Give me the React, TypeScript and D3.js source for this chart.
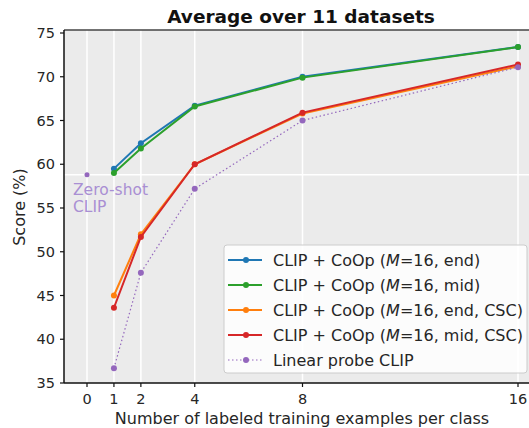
import { useEffect, useRef } from 'react';
import * as d3 from 'd3';

const shots = [1, 2, 4, 8, 16];
const endScores = [59.5, 62.4, 66.7, 70.0, 73.4];
const midScores = [59.0, 61.8, 66.6, 69.9, 73.4];
const endCscScores = [45.0, 52.0, 60.0, 65.8, 71.2];
const midCscScores = [43.6, 51.7, 60.0, 65.9, 71.4];
const linearProbeScores = [36.7, 47.6, 57.2, 65.0, 71.1];
const zeroShotScore = 58.8;

const xTicks = [0, 1, 2, 4, 8, 16];
const yTicks = [35, 40, 45, 50, 55, 60, 65, 70, 75];

const seriesNames = [
  'CLIP + CoOp (M=16, end)',
  'CLIP + CoOp (M=16, mid)',
  'CLIP + CoOp (M=16, end, CSC)',
  'CLIP + CoOp (M=16, mid, CSC)',
  'Linear probe CLIP',
];
const seriesColors = ['#1f77b4', '#2ca02c', '#ff7f0e', '#d62728', '#9467bd'];
const seriesValues = [endScores, midScores, endCscScores, midCscScores, linearProbeScores];

const W = 529;
const H = 428;
const FONT = 'DejaVu Sans, sans-serif';

export default function App() {
  const ref = useRef<SVGSVGElement>(null);

  useEffect(() => {
    document.body.style.margin = '0';
    if (!ref.current) return;
    const svg = d3.select(ref.current);
    svg.selectAll('*').remove();

    const left = 64, right = 535, top = 30, bottom = 383;
    const x = d3.scaleLinear().domain([0, 16]).range([87, 518]);
    const y = d3.scaleLinear().domain([35, 75]).range([bottom, 33]);

    // plot background
    svg.append('rect')
      .attr('x', left).attr('y', top)
      .attr('width', right - left).attr('height', bottom - top)
      .attr('fill', '#ebebeb');

    // vertical grid
    svg.append('g').selectAll('line').data(xTicks).join('line')
      .attr('x1', d => x(d)).attr('x2', d => x(d))
      .attr('y1', top).attr('y2', bottom)
      .attr('stroke', '#fff').attr('stroke-width', 1.5);

    // zero-shot reference line
    svg.append('line')
      .attr('x1', left).attr('x2', right)
      .attr('y1', y(zeroShotScore)).attr('y2', y(zeroShotScore))
      .attr('stroke', '#fff').attr('stroke-width', 1.5);

    // series
    const rows = seriesValues.map(vals => shots.map((s, i) => ({ s, v: vals[i] })));
    const line = d3.line<{ s: number; v: number }>().x(d => x(d.s)).y(d => y(d.v));
    rows.forEach((data, k) => {
      const dotted = k === 4;
      svg.append('path')
        .datum(data)
        .attr('fill', 'none')
        .attr('stroke', seriesColors[k])
        .attr('stroke-width', dotted ? 1.2 : 2)
        .attr('stroke-dasharray', dotted ? '1.5,2.5' : null)
        .attr('d', line);
      svg.append('g').selectAll('circle').data(data).join('circle')
        .attr('cx', d => x(d.s)).attr('cy', d => y(d.v))
        .attr('r', 3).attr('fill', seriesColors[k]);
    });

    // zero-shot point and label
    svg.append('circle')
      .attr('cx', x(0)).attr('cy', y(zeroShotScore))
      .attr('r', 2.5).attr('fill', '#9467bd');
    const zs = svg.append('text')
      .attr('font-family', FONT).attr('font-size', 15.5)
      .attr('fill', '#a98fd3');
    zs.append('tspan').attr('x', 73).attr('y', y(zeroShotScore) + 20).text('Zero-shot');
    zs.append('tspan').attr('x', 73).attr('y', y(zeroShotScore) + 37).text('CLIP');

    // frame
    svg.append('line').attr('x1', left).attr('x2', right).attr('y1', top).attr('y2', top)
      .attr('stroke', '#444').attr('stroke-width', 1.5);
    svg.append('line').attr('x1', left).attr('x2', right).attr('y1', bottom).attr('y2', bottom)
      .attr('stroke', '#111').attr('stroke-width', 1.5);
    svg.append('line').attr('x1', left).attr('x2', left).attr('y1', top).attr('y2', bottom)
      .attr('stroke', '#111').attr('stroke-width', 1.5);

    // y ticks
    const yg = svg.append('g');
    yg.selectAll('line').data(yTicks).join('line')
      .attr('x1', left - 4).attr('x2', left)
      .attr('y1', d => y(d)).attr('y2', d => y(d))
      .attr('stroke', '#111').attr('stroke-width', 1.2);
    yg.selectAll('text').data(yTicks).join('text')
      .attr('x', left - 9).attr('y', d => y(d))
      .attr('dy', '0.36em').attr('text-anchor', 'end')
      .attr('font-family', FONT).attr('font-size', 14.5).attr('fill', '#262626')
      .text(d => d);

    // x ticks
    const xg = svg.append('g');
    xg.selectAll('line').data(xTicks).join('line')
      .attr('x1', d => x(d)).attr('x2', d => x(d))
      .attr('y1', bottom).attr('y2', bottom + 4)
      .attr('stroke', '#111').attr('stroke-width', 1.2);
    xg.selectAll('text').data(xTicks).join('text')
      .attr('x', d => x(d)).attr('y', bottom + 21)
      .attr('text-anchor', 'middle')
      .attr('font-family', FONT).attr('font-size', 14.5).attr('fill', '#262626')
      .text(d => d);

    // axis labels and title
    svg.append('text')
      .attr('x', 302).attr('y', 424).attr('text-anchor', 'middle')
      .attr('font-family', FONT).attr('font-size', 16).attr('fill', '#262626')
      .text('Number of labeled training examples per class');
    svg.append('text')
      .attr('transform', `translate(25,${207}) rotate(-90)`)
      .attr('text-anchor', 'middle')
      .attr('font-family', FONT).attr('font-size', 16).attr('fill', '#262626')
      .text('Score (%)');
    svg.append('text')
      .attr('x', 301).attr('y', 23).attr('text-anchor', 'middle')
      .attr('font-family', FONT).attr('font-size', 18.5).attr('font-weight', 'bold')
      .attr('fill', '#111')
      .text('Average over 11 datasets');

    // legend
    const lg = svg.append('g').attr('transform', 'translate(224,245)');
    lg.append('rect')
      .attr('width', 303).attr('height', 128).attr('rx', 3)
      .attr('fill', '#fff').attr('fill-opacity', 0.85)
      .attr('stroke', '#ccc');
    seriesNames.forEach((name, k) => {
      const row = lg.append('g').attr('transform', `translate(0,${15 + k * 25})`);
      row.append('line')
        .attr('x1', 4).attr('x2', 38).attr('y1', 0).attr('y2', 0)
        .attr('stroke', seriesColors[k])
        .attr('stroke-width', k === 4 ? 1.2 : 2)
        .attr('stroke-dasharray', k === 4 ? '1.5,2.5' : null);
      row.append('circle').attr('cx', 22).attr('cy', 0).attr('r', 3).attr('fill', seriesColors[k]);
      const t = row.append('text')
        .attr('x', 49).attr('y', 0).attr('dy', '0.36em')
        .attr('font-family', FONT).attr('font-size', 16).attr('fill', '#262626');
      const m = name.match(/^(.*\()M(=.*)$/);
      if (m) {
        t.append('tspan').text(m[1]);
        t.append('tspan').attr('font-style', 'italic').text('M');
        t.append('tspan').text(m[2]);
      } else {
        t.text(name);
      }
    });
  }, []);

  return (
    <svg ref={ref} width={W} height={H} style={{ position: 'absolute', left: 0, top: 0, background: '#fff' }} />
  );
}
